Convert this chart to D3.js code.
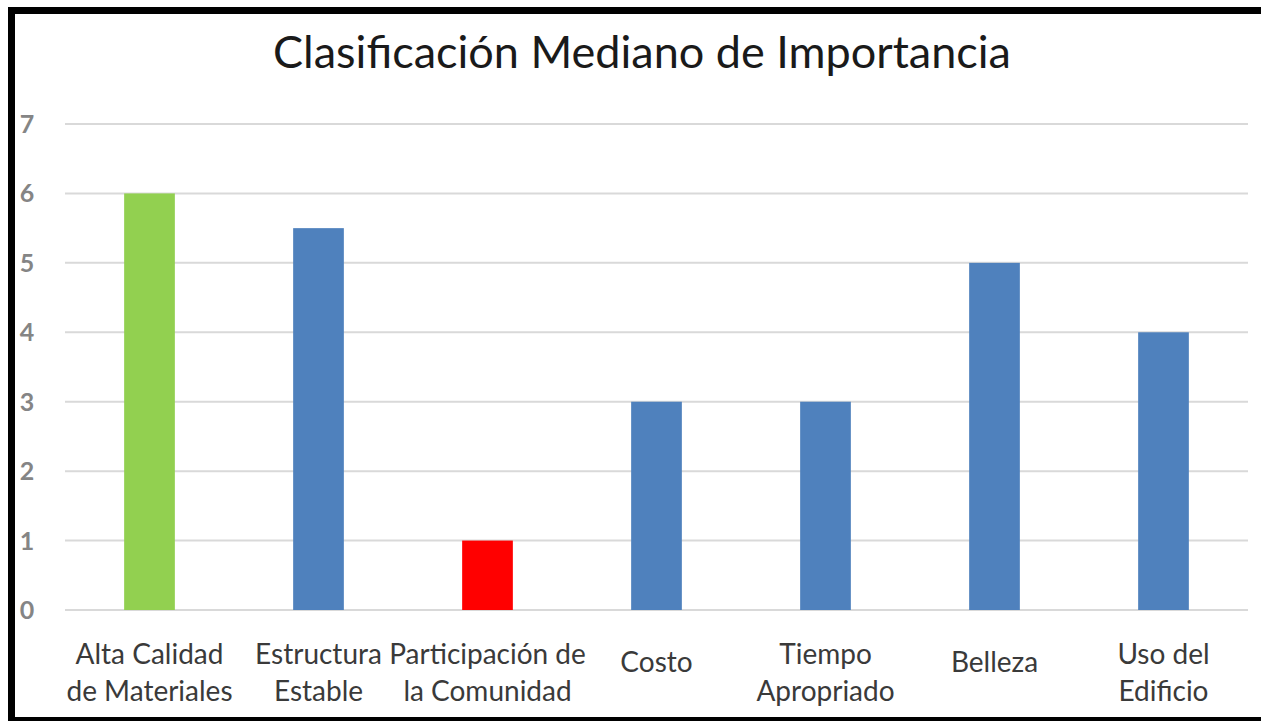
<!DOCTYPE html>
<html>
<head>
<meta charset="utf-8">
<script src="https://cdn.jsdelivr.net/npm/d3@7"></script>
<style>
  body { margin: 0; background: #fff; }
  svg { display: block; }
</style>
</head>
<body>
<svg width="1261" height="721"></svg>
<script>
var categories = [
  ["Alta Calidad", "de Materiales"],
  ["Estructura", "Estable"],
  ["Participación de", "la Comunidad"],
  ["Costo"],
  ["Tiempo", "Apropriado"],
  ["Belleza"],
  ["Uso del", "Edificio"]
];
var values = [6, 5.5, 1, 3, 3, 5, 4];
var barColors = ["#92d050", "#4f81bd", "#ff0000", "#4f81bd", "#4f81bd", "#4f81bd", "#4f81bd"];
var yTicks = [0, 1, 2, 3, 4, 5, 6, 7];
var title = "Clasificación Mediano de Importancia";

var svg = d3.select("svg"),
  width = 1261,
  height = 721;

// frame (black border top / left / bottom like the screenshot)
svg.append("rect").attr("x", 0).attr("y", 0).attr("width", width).attr("height", height).attr("fill", "#fff");
svg.append("rect").attr("x", 8).attr("y", 7).attr("width", width - 8).attr("height", 7).attr("fill", "#000");
svg.append("rect").attr("x", 8).attr("y", 7).attr("width", 7).attr("height", height - 7).attr("fill", "#000");
svg.append("rect").attr("x", 8).attr("y", 717).attr("width", width - 8).attr("height", 4).attr("fill", "#000");

var x = d3.scaleBand()
  .domain(d3.range(categories.length))
  .range([65, 1248])
  .paddingInner(0.7)
  .paddingOuter(0.35);

var y = d3.scaleLinear()
  .domain([0, 7])
  .range([610, 124]);

// grid
svg.append("g")
  .selectAll("line")
  .data(yTicks)
  .enter().append("line")
  .attr("x1", 65)
  .attr("x2", 1248)
  .attr("y1", d => y(d))
  .attr("y2", d => y(d))
  .attr("stroke", "#d9d9d9")
  .attr("stroke-width", 2);

// y labels
svg.append("g")
  .selectAll("text")
  .data(yTicks)
  .enter().append("text")
  .attr("x", 27)
  .attr("y", d => y(d) + 9)
  .attr("text-anchor", "middle")
  .attr("font-family", "Lato, sans-serif")
  .attr("font-size", 25)
  .attr("font-weight", "bold")
  .attr("fill", "#858585")
  .text(d => d);

// bars
svg.append("g")
  .selectAll("rect")
  .data(values)
  .enter().append("rect")
  .attr("x", (d, i) => x(i))
  .attr("width", x.bandwidth())
  .attr("y", d => y(d))
  .attr("height", d => y(0) - y(d))
  .attr("fill", (d, i) => barColors[i]);

// x labels
var lab = svg.append("g")
  .selectAll("text")
  .data(categories)
  .enter().append("text")
  .attr("text-anchor", "middle")
  .attr("font-family", "Lato, sans-serif")
  .attr("font-size", 28)
  .attr("fill", "#3a3a3a")
  .attr("transform", (d, i) => "translate(" + (x(i) + x.bandwidth() / 2) + "," + (d.length > 1 ? 664 : 672) + ")");

lab.selectAll("tspan")
  .data(d => d)
  .enter().append("tspan")
  .attr("x", 0)
  .attr("dy", (d, i) => i ? 37 : 0)
  .text(d => d);

// title
svg.append("text")
  .attr("x", 642)
  .attr("y", 68)
  .attr("text-anchor", "middle")
  .attr("font-family", "Lato, sans-serif")
  .attr("font-size", 45)
  .attr("fill", "#1a1a1a")
  .text(title);
</script>
</body>
</html>
